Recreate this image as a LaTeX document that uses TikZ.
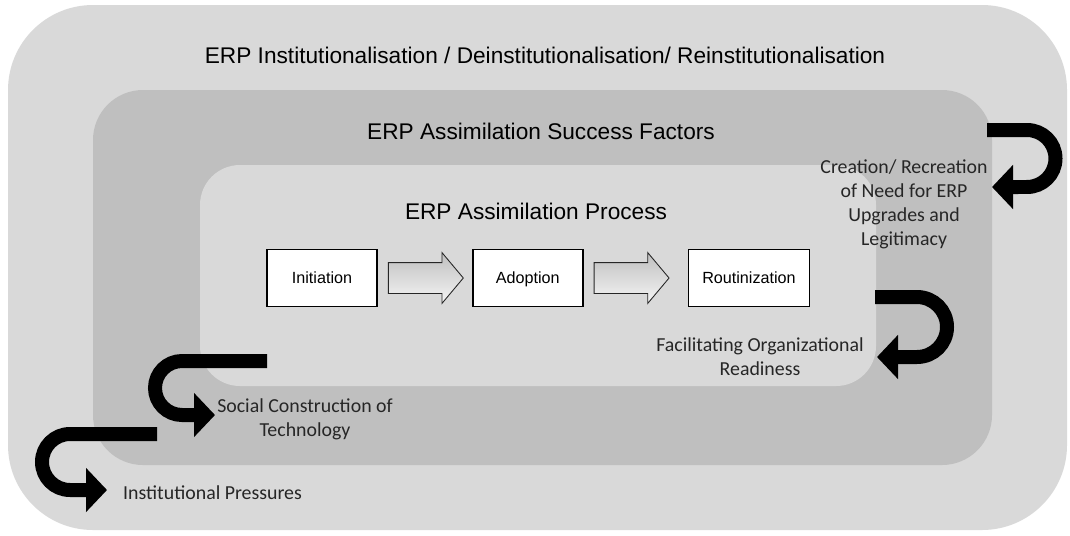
\documentclass[tikz,border=0pt]{standalone}
\usepackage{fontspec}
\setmainfont{Liberation Sans}
\newfontfamily\calibfont{Carlito}
\usetikzlibrary{arrows.meta,shapes.arrows,positioning}
\definecolor{outergray}{HTML}{D9D9D9}
\definecolor{midgray}{HTML}{BFBFBF}

\begin{document}
\begin{tikzpicture}[x=0.02cm, y=-0.02cm,
  stagebox/.style={draw=black, line width=1pt, fill=white, inner sep=0pt,
    minimum width=2.2cm, minimum height=1.14cm, text height=1.6ex, text depth=0.4ex,
    font=\fontsize{9.2}{11}\selectfont},
  stagearrow/.style={single arrow, draw=black!85, line width=0.5pt,
    top color=gray!50, bottom color=gray!8, inner xsep=0pt, inner ysep=0.3cm,
    minimum height=1.5cm, single arrow head extend=0.2cm,
    single arrow tip angle=100},
  layertitle/.style={font=\fontsize{12.9}{15}\selectfont},
  sidelabel/.style={align=center, text=black!85,
    font=\calibfont\fontsize{11.3}{13.6}\selectfont},
  loopline/.style={line width=0.28cm, -{Triangle[length=0.42cm 0, width=0.86cm 0]}}
]
\useasboundingbox (0,0) rectangle (1070,535);

% nested layers
\fill[outergray, rounded corners=1.7cm] (8,5) rectangle (1067,530);
\fill[midgray, rounded corners=1cm] (93,90) rectangle (992,465);
\fill[outergray, rounded corners=0.8cm] (200,165) rectangle (876,386);

\node[layertitle] (instit) at (545,55) {ERP Institutionalisation / Deinstitutionalisation/ Reinstitutionalisation};
\node[layertitle] (factors) at (541,131) {ERP Assimilation Success Factors};
\node[layertitle] (process) at (536,211) {ERP Assimilation Process};

% the three stages
\node[stagebox] (init) at (322,278) {Initiation};
\node[stagearrow, right=0.2cm of init] (arrA) {};
\node[stagebox, right=0.16cm of arrA] (adopt) {Adoption};
\node[stagearrow, right=0.2cm of adopt] (arrB) {};
\node[stagebox, right=0.36cm of arrB, minimum width=2.42cm] (rout) {Routinization};

% mechanisms between the layers
\node[sidelabel] (creation) at (904,204) {Creation/ Recreation\\of Need for ERP\\Upgrades and\\Legitimacy};
\node[sidelabel] (readiness) at (760,357) {Facilitating Organizational\\Readiness};
\node[sidelabel] (social) at (305,419) {Social Construction of\\Technology};
\node[sidelabel, anchor=west] (pressures) at (117,493) {Institutional Pressures};

\coordinate (crStart) at (987,130);
\coordinate (crTip) at (992,187);
\coordinate (frStart) at (875,297);
\coordinate (frTip) at (877,357);
\coordinate (scStart) at (267,361);
\coordinate (scTip) at (215,415);
\coordinate (ipStart) at (157,434);
\coordinate (ipTip) at (107,490);

\draw[loopline] (crStart) -- (1027,130) arc[start angle=90, end angle=-90, radius=0.57cm] -- (crTip);
\draw[loopline] (frStart) -- (917,297) arc[start angle=90, end angle=-90, radius=0.6cm] -- (frTip);
\draw[loopline] (scStart) -- (182,361) arc[start angle=90, end angle=270, radius=0.54cm] -- (scTip);
\draw[loopline] (ipStart) -- (70,434) arc[start angle=90, end angle=270, radius=0.56cm] -- (ipTip);
\end{tikzpicture}
\end{document}
